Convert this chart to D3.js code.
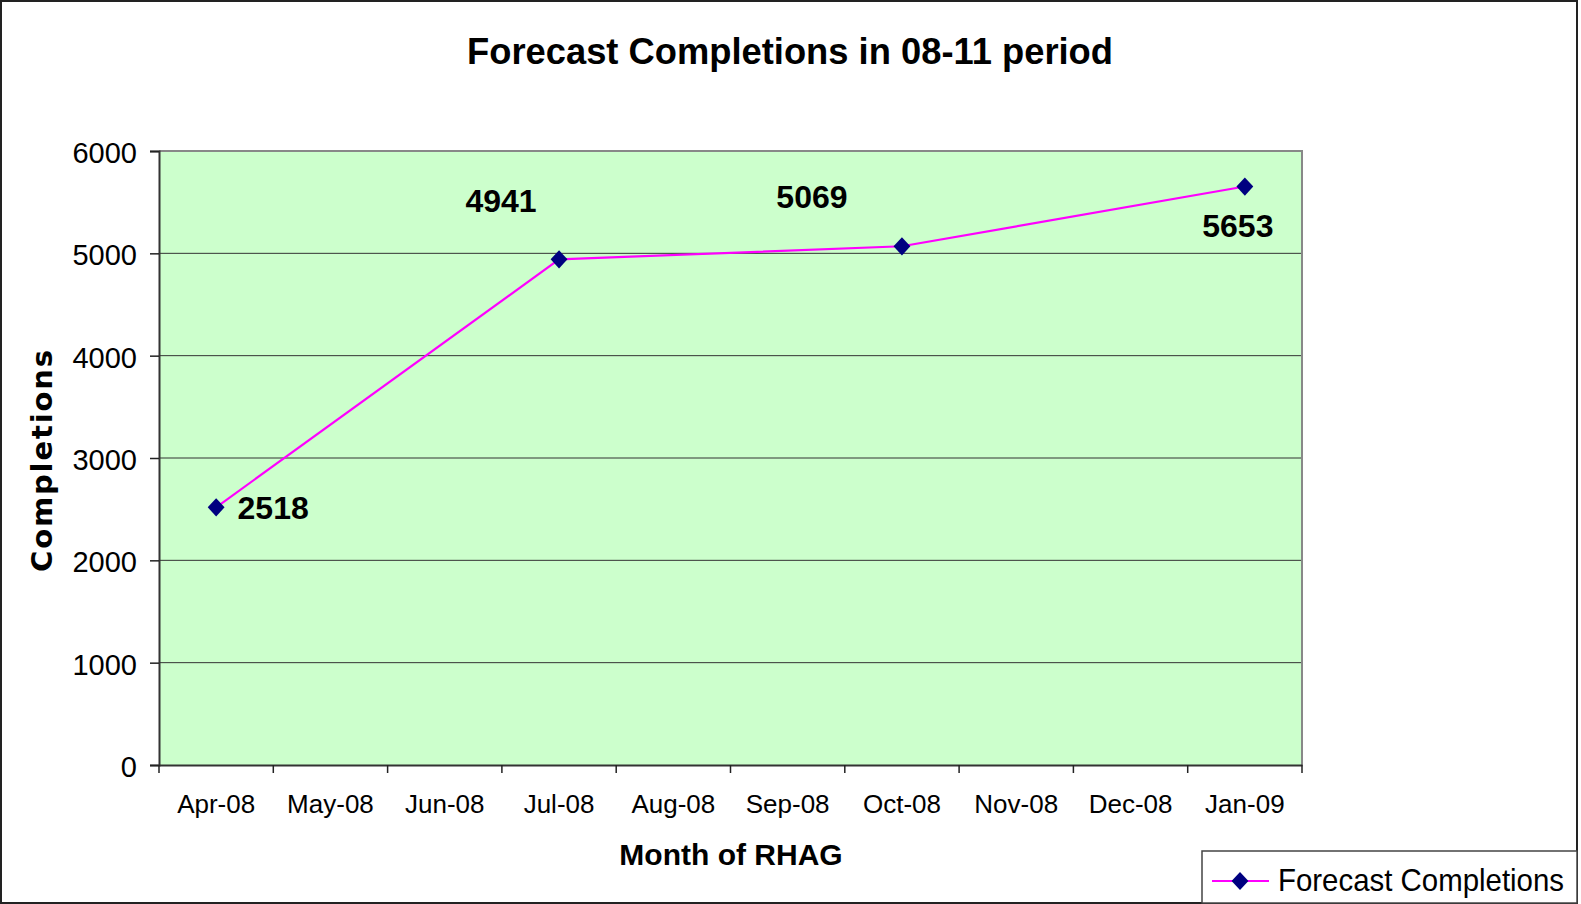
<!DOCTYPE html>
<html>
<head>
<meta charset="utf-8">
<script src="https://cdn.jsdelivr.net/npm/d3@7"></script>
<style>
  html, body { margin: 0; padding: 0; background: #fff; }
  svg { display: block; }
</style>
</head>
<body>
<svg id="chart" width="1581" height="904"></svg>
<script>
const months = ["Apr-08", "May-08", "Jun-08", "Jul-08", "Aug-08", "Sep-08", "Oct-08", "Nov-08", "Dec-08", "Jan-09"];
const completions = [2518, null, null, 4941, null, null, 5069, null, null, 5653];
const yTicks = [0, 1000, 2000, 3000, 4000, 5000, 6000];
const seriesName = "Forecast Completions";
const chartTitle = "Forecast Completions in 08-11 period";

// label offsets from each marker, to sit like the original
const labelOffsets = { "Apr-08": [57, 12], "Jul-08": [-58, -47], "Oct-08": [-90, -38], "Jan-09": [-7, 50] };

const svg = d3.select("#chart");
const plotL = 159, plotR = 1302, plotT = 151, plotB = 765;

const x = d3.scaleBand().domain(months).range([plotL, plotR]);
const y = d3.scaleLinear().domain([0, 6000]).range([plotB, plotT]);

// outer frame
svg.append("rect").attr("x", 1).attr("y", 1).attr("width", 1576).attr("height", 902)
  .attr("fill", "#fff").attr("stroke", "#222").attr("stroke-width", 2);

// plot area
svg.append("rect").attr("x", plotL).attr("y", plotT).attr("width", plotR - plotL).attr("height", plotB - plotT)
  .attr("fill", "#ccffcc");

// gridlines
svg.append("g").selectAll("line").data(yTicks.filter(d => d > 0 && d < 6000)).join("line")
  .attr("x1", plotL).attr("x2", plotR).attr("y1", d => y(d)).attr("y2", d => y(d))
  .attr("stroke", "#333").attr("stroke-width", 1);

// top and right border
svg.append("path").attr("d", `M${plotL},${plotT}H${plotR}V${plotB}`)
  .attr("fill", "none").attr("stroke", "#888").attr("stroke-width", 2);

// y axis
const yAxis = svg.append("g").attr("transform", `translate(${plotL},0)`)
  .call(d3.axisLeft(y).tickValues(yTicks).tickSize(9).tickPadding(13).tickFormat(d3.format("d")));
yAxis.select(".domain").attr("stroke", "#333").attr("stroke-width", 2);
yAxis.selectAll(".tick line").attr("stroke", "#222").attr("stroke-width", 1.5);
yAxis.selectAll(".tick text").attr("font-family", "Liberation Sans, Arial, sans-serif")
  .attr("font-size", 29).attr("fill", "#000").attr("dy", "0.4em");

// x axis
const xAxis = svg.append("g").attr("transform", `translate(0,${plotB})`)
  .call(d3.axisBottom(x).tickSize(0).tickPadding(30));
xAxis.select(".domain").attr("stroke", "#333").attr("stroke-width", 2);
xAxis.selectAll(".tick text").attr("font-family", "Liberation Sans, Arial, sans-serif")
  .attr("font-size", 26).attr("fill", "#000");
const bounds = months.map(m => x(m)).concat([x(months[months.length - 1]) + x.bandwidth()]);
xAxis.selectAll("line.bound").data(bounds).join("line").attr("class", "bound")
  .attr("x1", d => d).attr("x2", d => d).attr("y1", 0).attr("y2", 8)
  .attr("stroke", "#222").attr("stroke-width", 1.5);

// series
const points = months.map((m, i) => ({ month: m, value: completions[i] })).filter(d => d.value != null);
const cx = d => x(d.month) + x.bandwidth() / 2;

svg.append("path").datum(points)
  .attr("d", d3.line().x(cx).y(d => y(d.value)))
  .attr("fill", "none").attr("stroke", "#ff00ff").attr("stroke-width", 2.2);

const diamond = d3.symbol().type(d3.symbolDiamond).size(96);
svg.append("g").selectAll("path").data(points).join("path")
  .attr("d", diamond)
  .attr("transform", d => `translate(${cx(d)},${y(d.value)}) scale(1.6,1)`)
  .attr("fill", "#000080");

svg.append("g").selectAll("text").data(points).join("text")
  .attr("x", d => cx(d) + labelOffsets[d.month][0])
  .attr("y", d => y(d.value) + labelOffsets[d.month][1])
  .attr("text-anchor", "middle")
  .attr("font-family", "Liberation Sans, Arial, sans-serif").attr("font-weight", "bold")
  .attr("font-size", 32).attr("fill", "#000")
  .text(d => d.value);

// title
svg.append("text").attr("x", 790).attr("y", 64).attr("text-anchor", "middle")
  .attr("font-family", "Liberation Sans Narrow, Arial Narrow, sans-serif").attr("font-weight", "bold")
  .attr("font-size", 36).attr("textLength", 646).attr("lengthAdjust", "spacingAndGlyphs")
  .text(chartTitle);

// axis titles
svg.append("text").attr("transform", "translate(52,461) rotate(-90)").attr("text-anchor", "middle")
  .attr("font-family", "DejaVu Sans, Verdana, sans-serif").attr("font-weight", "bold")
  .attr("font-size", 29).attr("textLength", 222)
  .text("Completions");

svg.append("text").attr("x", 731).attr("y", 865).attr("text-anchor", "middle")
  .attr("font-family", "Liberation Sans, Arial, sans-serif").attr("font-weight", "bold")
  .attr("font-size", 30)
  .text("Month of RHAG");

// legend
const legend = svg.append("g");
legend.append("rect").attr("x", 1202).attr("y", 851).attr("width", 375).attr("height", 52)
  .attr("fill", "#fff").attr("stroke", "#444").attr("stroke-width", 1.5);
legend.append("line").attr("x1", 1212).attr("x2", 1269).attr("y1", 881).attr("y2", 881)
  .attr("stroke", "#ff00ff").attr("stroke-width", 2.2);
legend.append("path").attr("d", diamond).attr("transform", "translate(1240,881) scale(1.6,1)").attr("fill", "#000080");
legend.append("text").attr("x", 1278).attr("y", 891)
  .attr("font-family", "Liberation Sans Narrow, Arial Narrow, sans-serif")
  .attr("font-size", 32).attr("textLength", 286).attr("lengthAdjust", "spacingAndGlyphs")
  .text(seriesName);
</script>
</body>
</html>
